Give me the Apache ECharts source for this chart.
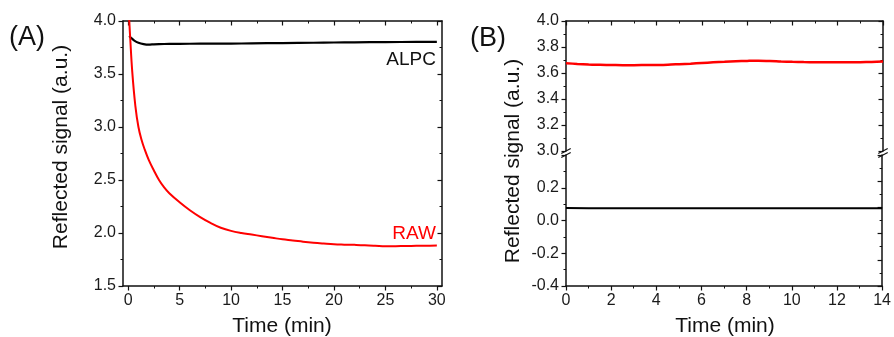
<!DOCTYPE html>
<html>
<head>
<meta charset="utf-8">
<script src="https://cdn.jsdelivr.net/npm/echarts@6/dist/echarts.min.js"></script>
<style>
  html, body { margin: 0; padding: 0; background: #fff; }
  #chart { width: 894px; height: 337px; }
</style>
</head>
<body>
<div id="chart"></div>
<script>
// Panel A: reflected signal during 30 min, raw vs. ALPC-corrected
const rawTime   = [0, 0.1, 0.2, 0.4, 0.7, 1.0, 1.3, 1.6, 2.0, 2.5, 3.0, 3.5, 4.0, 5.0, 6.0, 7.0, 8.0, 9.0, 10, 11, 12, 13, 14, 15, 16, 17, 18, 19, 20, 21, 22, 23, 24, 25, 26, 27, 28, 29, 30];
const rawSignal = [4.25, 4.02, 3.84, 3.52, 3.2, 3.0, 2.88, 2.79, 2.69, 2.59, 2.5, 2.43, 2.375, 2.29, 2.215, 2.15, 2.095, 2.05, 2.02, 2.0, 1.985, 1.97, 1.955, 1.94, 1.93, 1.918, 1.908, 1.9, 1.893, 1.89, 1.888, 1.885, 1.88, 1.874, 1.876, 1.877, 1.879, 1.88, 1.881];
const alpcTime   = [0.1, 0.3, 0.6, 1.0, 1.5, 2.0, 2.5, 3, 4, 5, 7, 10, 12, 15, 18, 20, 22, 25, 28, 30];
const alpcSignal = [3.858, 3.84, 3.815, 3.795, 3.782, 3.777, 3.78, 3.782, 3.784, 3.785, 3.786, 3.787, 3.789, 3.792, 3.795, 3.797, 3.799, 3.801, 3.803, 3.804];

// Panel B: 14 min record, broken signal axis
const bTime       = [0, 0.5, 1, 1.5, 2, 2.5, 3, 3.5, 4, 4.5, 5, 5.5, 6, 6.5, 7, 7.5, 8, 8.5, 9, 9.5, 10, 10.5, 11, 11.5, 12, 12.5, 13, 13.5, 14];
const bRawSignal  = [3.675, 3.67, 3.666, 3.663, 3.662, 3.66, 3.66, 3.661, 3.662, 3.664, 3.668, 3.672, 3.677, 3.682, 3.686, 3.69, 3.693, 3.695, 3.693, 3.689, 3.686, 3.684, 3.683, 3.682, 3.682, 3.682, 3.683, 3.685, 3.688];
const bAlpcTime   = [0, 1, 2, 3, 4, 5, 6, 7, 8, 9, 10, 11, 12, 13, 14];
const bAlpcSignal = [0.076, 0.075, 0.075, 0.075, 0.075, 0.075, 0.075, 0.075, 0.075, 0.075, 0.075, 0.075, 0.075, 0.075, 0.075];

// Tick labels / positions
const aTimeMajor = [0, 5, 10, 15, 20, 25, 30];
const aTimeMinor = [2.5, 7.5, 12.5, 17.5, 22.5, 27.5];
const aTimeRange = { min: -0.5, max: 30.5 };
const aSignalTicks = { min: 1.5, max: 4.0, interval: 0.5 };
const bTimeTicks = { min: 0, max: 14, interval: 2 };
const bUpperTicks = { min: 3.0, max: 4.0, interval: 0.2 };
const bLowerTicks = { min: -0.4, max: 0.4, interval: 0.2 };
const bRightLowerTicks = { min: 0, max: 1.0, interval: 0.2 };

const FONT = 'Liberation Sans, Arial, sans-serif';
const INK = '#111';

const gridA  = { left: 123, top: 21, width: 319, height: 265 };
const gridBu = { left: 566, top: 21, width: 317, height: 130 };
const gridBl = { left: 566, top: 155, width: 317, height: 131 };

function zip(xs, ys) { return xs.map((x, i) => [x, ys[i]]); }

const axisLine = { show: true, onZero: false, lineStyle: { color: INK, width: 1.5 } };
const labelStyle = { color: '#1a1a1a', fontFamily: FONT, fontSize: 16 };
const majorTick = (inside) => ({ show: true, inside: inside, length: 4.5, lineStyle: { color: INK, width: 1.2 } });
const minorTickStyle = { show: true, splitNumber: 2, length: 2.5, lineStyle: { color: INK, width: 1 } };

// main axis: outward ticks with labels
function mainAxis(extra, ticks, fmt) {
  return Object.assign({
    type: 'value', min: ticks.min, max: ticks.max, interval: ticks.interval,
    axisLine: axisLine,
    axisTick: majorTick(false),
    minorTick: minorTickStyle,
    axisLabel: Object.assign({ show: true, margin: 7, formatter: fmt }, labelStyle),
    splitLine: { show: false }
  }, extra);
}
// mirror axis: inward ticks, no labels
function mirrorAxis(extra, ticks) {
  return Object.assign({
    type: 'value', min: ticks.min, max: ticks.max, interval: ticks.interval,
    axisLine: axisLine,
    axisTick: majorTick(true),
    minorTick: minorTickStyle,
    axisLabel: { show: false },
    splitLine: { show: false }
  }, extra);
}
// time axis of panel A: ticks placed at explicit values
function aTimeAxis(position, inside, withLabels) {
  return {
    type: 'value', gridIndex: 0, position: position, min: aTimeRange.min, max: aTimeRange.max,
    axisLine: axisLine,
    axisTick: Object.assign(majorTick(inside), { customValues: aTimeMajor }),
    axisLabel: withLabels
      ? Object.assign({ show: true, margin: 7, customValues: aTimeMajor, formatter: v => String(v) }, labelStyle)
      : { show: false },
    splitLine: { show: false }
  };
}
function aTimeMinorAxis(position, inside) {
  return {
    type: 'value', gridIndex: 0, position: position, min: aTimeRange.min, max: aTimeRange.max,
    axisLine: { show: false },
    axisTick: { show: true, inside: inside, length: 2.5, customValues: aTimeMinor, lineStyle: { color: INK, width: 1 } },
    axisLabel: { show: false },
    splitLine: { show: false }
  };
}

const fmt1 = v => v.toFixed(1);

const option = {
  animation: false,
  backgroundColor: '#fff',
  grid: [gridA, gridBu, gridBl],
  xAxis: [
    aTimeAxis('bottom', false, true),
    aTimeAxis('top', true, false),
    mirrorAxis({ gridIndex: 1, position: 'top' }, bTimeTicks),
    mainAxis({ gridIndex: 2, position: 'bottom' }, bTimeTicks, v => String(v)),
    aTimeMinorAxis('bottom', false),
    aTimeMinorAxis('top', true)
  ],
  yAxis: [
    mainAxis({ gridIndex: 0, position: 'left' }, aSignalTicks, fmt1),
    mirrorAxis({ gridIndex: 0, position: 'right' }, aSignalTicks),
    mainAxis({ gridIndex: 1, position: 'left' }, bUpperTicks, fmt1),
    mirrorAxis({ gridIndex: 1, position: 'right' }, bUpperTicks),
    mainAxis({ gridIndex: 2, position: 'left' }, bLowerTicks, v => (v > 0.3 ? '' : v.toFixed(1))),
    mirrorAxis({ gridIndex: 2, position: 'right' }, bRightLowerTicks)
  ],
  series: [
    { name: 'ALPC', type: 'line', xAxisIndex: 0, yAxisIndex: 0, data: zip(alpcTime, alpcSignal),
      showSymbol: false, smooth: 0.3, clip: true, lineStyle: { color: '#000', width: 2.2 } },
    { name: 'RAW', type: 'line', xAxisIndex: 0, yAxisIndex: 0, data: zip(rawTime, rawSignal),
      showSymbol: false, smooth: 0.4, clip: true, lineStyle: { color: '#ff0000', width: 2 } },
    { name: 'RAW B', type: 'line', xAxisIndex: 2, yAxisIndex: 2, data: zip(bTime, bRawSignal),
      showSymbol: false, smooth: 0.3, clip: true, lineStyle: { color: '#ff0000', width: 2.5 } },
    { name: 'ALPC B', type: 'line', xAxisIndex: 3, yAxisIndex: 4, data: zip(bAlpcTime, bAlpcSignal),
      showSymbol: false, clip: true, lineStyle: { color: '#000', width: 2 } }
  ]
};

const chart = echarts.init(document.getElementById('chart'), null, { renderer: 'canvas' });
chart.setOption(option);

// annotations, titles and axis-break marks
const titleFont = { fontFamily: FONT, fontSize: 21, fill: '#111' };
function text(x, y, str, style, rotation) {
  return { type: 'text', x: x, y: y, rotation: rotation || 0, silent: true,
    style: Object.assign({ text: str, align: 'center', verticalAlign: 'middle' }, style) };
}
const alpcAt = chart.convertToPixel({ xAxisIndex: 0, yAxisIndex: 0 }, [30, 3.635]);
const rawAt  = chart.convertToPixel({ xAxisIndex: 0, yAxisIndex: 0 }, [30, 1.99]);

const breakMarks = [];
[gridBu.left, gridBu.left + gridBu.width].forEach(x => {
  const yc = (gridBu.top + gridBu.height + gridBl.top) / 2;
  breakMarks.push({ type: 'rect', shape: { x: x - 3, y: yc - 3, width: 6, height: 6 }, style: { fill: '#fff' }, silent: true });
  breakMarks.push({ type: 'line', shape: { x1: x - 4.7, y1: yc + 0.5, x2: x + 4.7, y2: yc - 4.5 }, style: { stroke: INK, lineWidth: 1.2 }, silent: true });
  breakMarks.push({ type: 'line', shape: { x1: x - 4.7, y1: yc + 4.5, x2: x + 4.7, y2: yc - 0.5 }, style: { stroke: INK, lineWidth: 1.2 }, silent: true });
});

chart.setOption({
  graphic: [
    text(27, 38, '(A)', { fontFamily: FONT, fontSize: 27, fill: '#111' }),
    text(488, 39, '(B)', { fontFamily: FONT, fontSize: 27, fill: '#111' }),
    text(282, 326, 'Time (min)', titleFont),
    text(725, 326, 'Time (min)', titleFont),
    text(61, 147, 'Reflected signal (a.u.)', titleFont, Math.PI / 2),
    text(513, 161, 'Reflected signal (a.u.)', titleFont, Math.PI / 2),
    text(alpcAt[0] - 1, alpcAt[1], 'ALPC', { fontFamily: FONT, fontSize: 19, fill: '#111', align: 'right' }),
    text(rawAt[0] - 1, rawAt[1], 'RAW', { fontFamily: FONT, fontSize: 19, fill: '#ff0000', align: 'right' })
  ].concat(breakMarks)
});
</script>
</body>
</html>
